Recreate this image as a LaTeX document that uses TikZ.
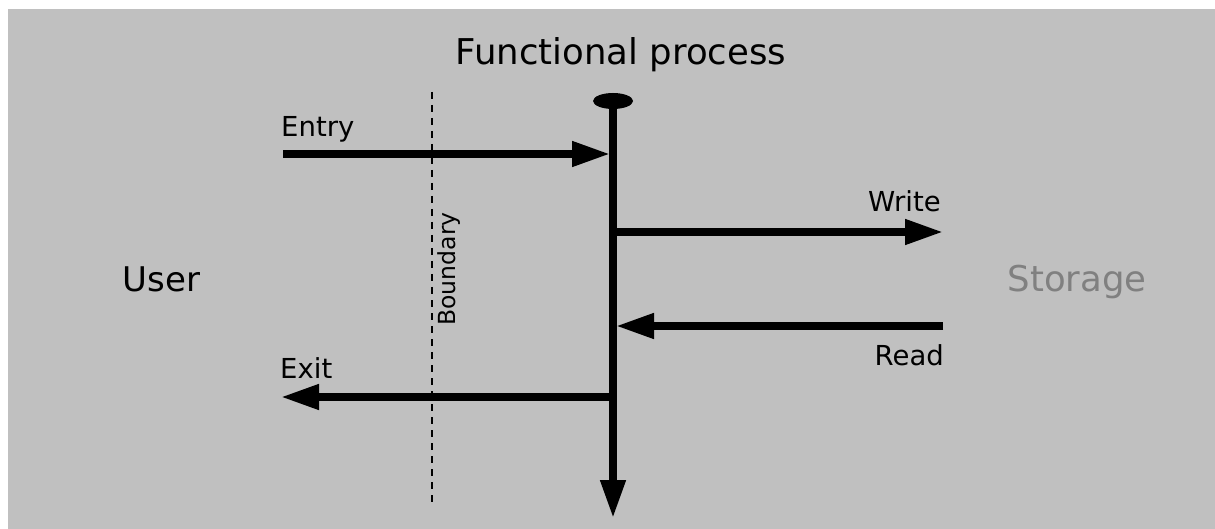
\documentclass[tikz,border=0pt]{standalone}
\usepackage{fontspec}
\setmainfont{DejaVu Sans}
\usepackage{tikz}
\usetikzlibrary{arrows.meta}
\usetikzlibrary{shapes.geometric}
\usetikzlibrary{positioning}
\definecolor{panelgray}{HTML}{C0C0C0}
\definecolor{storegray}{HTML}{808080}
\tikzset{
  flow/.style={line width=7.5pt, -{Triangle[length=38pt,width=24pt]}},
  biglabel/.style={inner sep=0pt, anchor=base, font=\fontsize{35.5}{42}\selectfont},
  movelabel/.style={inner sep=0pt, font=\fontsize{27.5}{33}\selectfont}
}

\begin{document}
\begin{tikzpicture}[x=1pt, y=-1pt]
    \useasboundingbox (0,0) rectangle (1215,529);
    \fill[panelgray] (8,9) rectangle (1215,529);
    % functional process line
    \node[biglabel] (fptitle) at (621,65) {Functional process};
    \node[ellipse, fill=black, minimum width=40pt, minimum height=16pt, inner sep=0pt] (fp) at (613,101) {};
    \coordinate (fpend) at (613,518);
    \draw[flow] (fp.center) -- (fpend);
    % boundary
    \coordinate (bndtop) at (432,92);
    \coordinate (bndbot) at (432,503);
    \draw[line width=1.6pt, dash pattern=on 7pt off 6pt] (bndtop) -- (bndbot);
    \node[inner sep=0pt, anchor=base, rotate=90, font=\fontsize{23.5}{28}\selectfont] (bnd) at (455,269) {Boundary};
    % user and storage
    \node[biglabel, font=\fontsize{34}{40}\selectfont] (user) at (161.5,291) {User};
    \node[biglabel, text=storegray] (storage) at (1077,291) {Storage};
    % data movements
    \coordinate (entrystart) at (283,154);
    \coordinate (entryend) at (610,154);
    \draw[flow] (entrystart) -- (entryend);
    \node[movelabel, anchor=base west] (entry) at (281,137) {Entry};
    \coordinate (writestart) at (613,232);
    \coordinate (writeend) at (943,232);
    \draw[flow] (writestart) -- (writeend);
    \node[movelabel, anchor=base east] (write) at (941,212) {Write};
    \coordinate (readstart) at (943,326);
    \coordinate (readend) at (616,326);
    \draw[flow] (readstart) -- (readend);
    \node[movelabel, anchor=base east] (read) at (944,365) {Read};
    \coordinate (exitstart) at (613,397);
    \coordinate (exitend) at (281,397);
    \draw[flow] (exitstart) -- (exitend);
    \node[movelabel, anchor=base west] (exit) at (280,378) {Exit};
\end{tikzpicture}
\end{document}
